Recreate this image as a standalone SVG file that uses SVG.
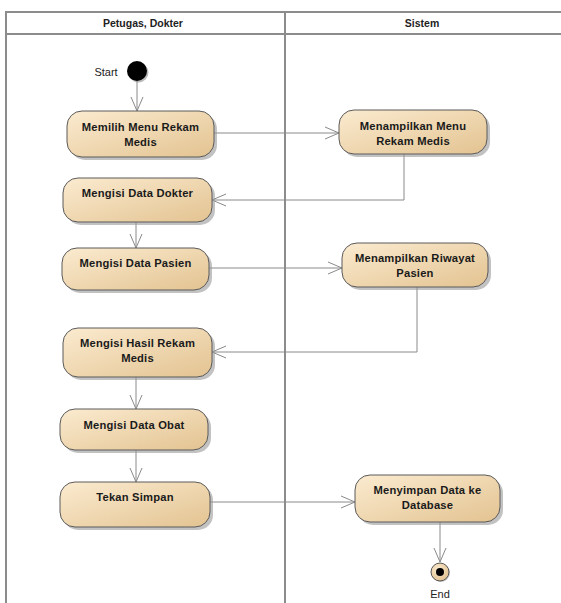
<svg xmlns="http://www.w3.org/2000/svg" width="561" height="603" viewBox="0 0 561 603">
<defs>
<linearGradient id="g" x1="0" y1="0" x2="1" y2="1">
<stop offset="0" stop-color="#fbebd0"/>
<stop offset="1" stop-color="#e3c391"/>
</linearGradient>
<radialGradient id="ge" cx="0.4" cy="0.35" r="0.7">
<stop offset="0" stop-color="#fbebd0"/>
<stop offset="1" stop-color="#e0bf8c"/>
</radialGradient>
<marker id="a" viewBox="0 0 15 14" refX="14" refY="7" markerWidth="15" markerHeight="14" markerUnits="userSpaceOnUse" orient="auto">
<path d="M0,1 L14,7 L0,13" fill="none" stroke="#8a8a8a" stroke-width="1"/>
</marker>
</defs>
<style>
.lane{fill:none;stroke:#8c8c8c;stroke-width:2}
.hd{font-family:"Liberation Sans",Arial,sans-serif;font-size:10.5px;font-weight:bold;fill:#222;text-anchor:middle}
.box{fill:url(#g);stroke:#5a5a5a;stroke-width:1}
.sh{fill:#9a9a9a;opacity:0.6}
.t{font-family:"Liberation Sans",Arial,sans-serif;font-size:11.2px;font-weight:bold;fill:#1a1a1a;text-anchor:middle;letter-spacing:0.2px}
.c{fill:none;stroke:#8a8a8a;stroke-width:1;marker-end:url(#a)}
.lb{font-family:"Liberation Sans",Arial,sans-serif;font-size:11px;fill:#222;text-anchor:middle}
</style>
<rect x="0" y="0" width="561" height="603" fill="#fff"/>
<g id="lanes">
<path class="lane" d="M6,604 V12 H562 M6,34 H562 M285,12 V604"/>
<text class="hd" x="143" y="27">Petugas, Dokter</text>
<text class="hd" x="422" y="27">Sistem</text>
</g>
<g id="connectors">
<path class="c" d="M137,81 V111"/>
<path class="c" d="M214,133 H339"/>
<path class="c" d="M404,154 V200 H212"/>
<path class="c" d="M136,222 V248"/>
<path class="c" d="M209,268 H342"/>
<path class="c" d="M417,287 V352 H212"/>
<path class="c" d="M136,377 V409"/>
<path class="c" d="M136,450 V482"/>
<path class="c" d="M210,502 H355"/>
<path class="c" d="M440,522 V562"/>
</g>
<g id="start">
<circle cx="138.5" cy="72.5" r="10" fill="#777" opacity="0.5"/>
<circle cx="137" cy="71" r="10" fill="#000"/>
<text class="lb" x="106" y="76">Start</text>
</g>
<g id="n1">
<rect class="sh" x="70" y="114" width="147" height="46" rx="15"/>
<rect class="box" x="67" y="111" width="147" height="46" rx="15"/>
<text class="t" x="140.5" y="131">Memilih Menu Rekam</text>
<text class="t" x="140.5" y="146">Medis</text>
</g>
<g id="n2">
<rect class="sh" x="66" y="181" width="149" height="44" rx="15"/>
<rect class="box" x="63" y="178" width="149" height="44" rx="15"/>
<text class="t" x="137.5" y="197">Mengisi Data Dokter</text>
</g>
<g id="s1">
<rect class="sh" x="342" y="113" width="148" height="44" rx="15"/>
<rect class="box" x="339" y="110" width="148" height="44" rx="15"/>
<text class="t" x="413" y="130">Menampilkan Menu</text>
<text class="t" x="413" y="145">Rekam Medis</text>
</g>
<g id="n3">
<rect class="sh" x="65" y="251" width="147" height="42" rx="15"/>
<rect class="box" x="62" y="248" width="147" height="42" rx="15"/>
<text class="t" x="135.5" y="267">Mengisi Data Pasien</text>
</g>
<g id="s2">
<rect class="sh" x="345" y="246" width="146" height="44" rx="15"/>
<rect class="box" x="342" y="243" width="146" height="44" rx="15"/>
<text class="t" x="415" y="262">Menampilkan Riwayat</text>
<text class="t" x="415" y="277">Pasien</text>
</g>
<g id="n4">
<rect class="sh" x="66" y="331" width="149" height="49" rx="15"/>
<rect class="box" x="63" y="328" width="149" height="49" rx="15"/>
<text class="t" x="137.5" y="347">Mengisi Hasil Rekam</text>
<text class="t" x="137.5" y="362">Medis</text>
</g>
<g id="n5">
<rect class="sh" x="63" y="412" width="148" height="41" rx="15"/>
<rect class="box" x="60" y="409" width="148" height="41" rx="15"/>
<text class="t" x="134" y="429">Mengisi Data Obat</text>
</g>
<g id="n6">
<rect class="sh" x="63" y="485" width="150" height="45" rx="15"/>
<rect class="box" x="60" y="482" width="150" height="45" rx="15"/>
<text class="t" x="135" y="501">Tekan Simpan</text>
</g>
<g id="s3">
<rect class="sh" x="358" y="478" width="145" height="47" rx="15"/>
<rect class="box" x="355" y="475" width="145" height="47" rx="15"/>
<text class="t" x="427.5" y="494">Menyimpan Data ke</text>
<text class="t" x="427.5" y="509">Database</text>
</g>
<g id="end">
<circle cx="441" cy="573" r="9" fill="#999" opacity="0.5"/>
<circle cx="440" cy="572" r="9" fill="url(#ge)" stroke="#555" stroke-width="1"/>
<circle cx="440" cy="572" r="4" fill="#000"/>
<text class="lb" x="440" y="598">End</text>
</g>
</svg>
